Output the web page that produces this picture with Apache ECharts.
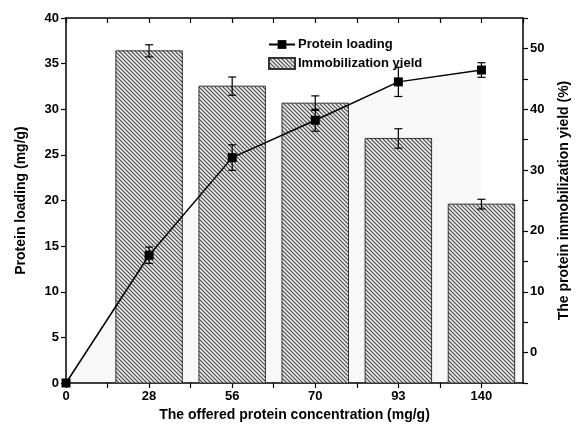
<!DOCTYPE html>
<html>
<head>
<meta charset="utf-8">
<script src="https://cdn.jsdelivr.net/npm/echarts@6/dist/echarts.min.js"></script>
<style>html,body{margin:0;padding:0;background:#fff}#c{width:579px;height:432px}</style>
</head>
<body>
<div id="c"></div>
<script>
const categories = ['0', '28', '56', '70', '93', '140'];
const loading = [0, 14.0, 24.7, 28.8, 33.0, 34.3];
const loadingErr = [0, 0.9, 1.4, 1.2, 1.6, 0.8];
const yieldVals = [null, 49.6, 43.8, 41.0, 35.2, 24.4];
const yieldErr = [null, 1.0, 1.5, 1.2, 1.6, 0.8];

function hatch() {
  const c = document.createElement('canvas');
  c.width = 4; c.height = 4;
  const g = c.getContext('2d');
  g.fillStyle = '#eeeeee';
  g.fillRect(0, 0, 4, 4);
  g.strokeStyle = '#4a4a4a';
  g.lineWidth = 1.2;
  g.beginPath();
  g.moveTo(-1, -1); g.lineTo(5, 5);
  g.moveTo(-1, 3); g.lineTo(1, 5);
  g.moveTo(3, -1); g.lineTo(5, 1);
  g.stroke();
  return c;
}
const pattern = { image: hatch(), repeat: 'repeat' };

const font = 'Liberation Sans, Arial, sans-serif';
const lineData = loading.map((v, i) => [i, v]);
const lineErrData = loading.map((v, i) => [i, v, loadingErr[i]]);
const barData = [];
const barErrData = [];
yieldVals.forEach((v, i) => {
  if (v !== null) { barData.push([i, v]); barErrData.push([i, v, yieldErr[i]]); }
});

function errRender(params, api) {
  const x = api.value(0), y = api.value(1), e = api.value(2);
  if (!e) return null;
  const top = api.coord([x, y + e]);
  const bot = api.coord([x, y - e]);
  const w = 4;
  const st = { stroke: '#000', lineWidth: 1.2 };
  return {
    type: 'group',
    children: [
      { type: 'line', shape: { x1: top[0], y1: top[1], x2: bot[0], y2: bot[1] }, style: st },
      { type: 'line', shape: { x1: top[0] - w, y1: top[1], x2: top[0] + w, y2: top[1] }, style: st },
      { type: 'line', shape: { x1: bot[0] - w, y1: bot[1], x2: bot[0] + w, y2: bot[1] }, style: st }
    ]
  };
}

const YIELD_MIN = -5;
function barRender(params, api) {
  const x = api.value(0), y = api.value(1);
  const topPt = api.coord([x, y]);
  const basePt = api.coord([x, YIELD_MIN]);
  const w = api.size([1, 0])[0] * 0.8;
  return {
    type: 'rect',
    shape: { x: topPt[0] - w / 2, y: topPt[1], width: w, height: basePt[1] - topPt[1] },
    style: { fill: pattern, stroke: '#333', lineWidth: 1 }
  };
}

const axisLabel = { color: '#000', fontWeight: 'bold', fontSize: 13, fontFamily: font };
const nameStyle = { color: '#000', fontWeight: 'bold', fontSize: 14, fontFamily: font };
const axLine = { show: true, onZero: false, lineStyle: { color: '#000', width: 1.5 } };

const chart = echarts.init(document.getElementById('c'), null, { renderer: 'canvas' });
chart.setOption({
  animation: false,
  backgroundColor: '#fff',
  grid: { left: 66, right: 48, top: 18, bottom: 49 },
  legend: {
    data: [{ name: 'Protein loading' }, { name: 'Immobilization yield', icon: 'rect' }],
    orient: 'vertical',
    left: 263, top: 33,
    itemGap: 6,
    itemWidth: 26, itemHeight: 11,
    textStyle: { color: '#000', fontWeight: 'bold', fontSize: 13, fontFamily: font, padding: [0, 0, 0, -2] }
  },
  xAxis: [{
    type: 'value', min: 0, max: 5.5, interval: 0.5, position: 'bottom',
    axisLine: axLine,
    axisTick: { show: true, inside: false, length: 5, lineStyle: { color: '#000', width: 1.2 } },
    axisLabel: Object.assign({}, axisLabel, {
      margin: 7,
      showMaxLabel: false,
      formatter: v => (Math.abs(v - Math.round(v)) < 1e-6 ? categories[Math.round(v)] : '')
    }),
    splitLine: { show: false },
    name: 'The offered protein concentration (mg/g)',
    nameLocation: 'middle', nameGap: 23, nameTextStyle: nameStyle
  }, {
    type: 'value', min: 0, max: 5.5, interval: 0.5, position: 'top',
    axisLine: axLine,
    axisTick: { show: true, inside: true, length: 5, lineStyle: { color: '#000', width: 1.2 } },
    axisLabel: { show: false },
    splitLine: { show: false }
  }],
  yAxis: [{
    type: 'value', min: 0, max: 40, interval: 5, position: 'left',
    axisLine: axLine,
    axisTick: { show: true, length: 5, lineStyle: { color: '#000', width: 1.2 } },
    axisLabel: Object.assign({}, axisLabel, { margin: 7 }),
    splitLine: { show: false },
    name: 'Protein loading (mg/g)',
    nameLocation: 'middle', nameGap: 38, nameRotate: 90, nameTextStyle: nameStyle
  }, {
    type: 'value', min: YIELD_MIN, max: 55, interval: 5, position: 'right',
    axisLine: axLine,
    axisTick: { show: true, length: 5, lineStyle: { color: '#000', width: 1.2 } },
    axisLabel: Object.assign({}, axisLabel, {
      margin: 7,
      formatter: v => (Math.round(v) % 10 === 0 && v <= 50 ? String(v) : '')
    }),
    splitLine: { show: false },
    name: 'The protein immobilization yield (%)',
    nameLocation: 'middle', nameGap: 34, nameRotate: 90, nameTextStyle: nameStyle
  }],
  series: [{
    name: 'area',
    type: 'line', xAxisIndex: 0, yAxisIndex: 0, z: 1,
    data: lineData, symbol: 'none',
    lineStyle: { width: 0 },
    areaStyle: { color: 'rgba(0,0,0,0.04)', origin: 'start' },
    silent: true
  }, {
    name: 'Immobilization yield',
    type: 'custom', xAxisIndex: 0, yAxisIndex: 1, z: 2,
    data: barData, renderItem: barRender,
    itemStyle: { color: pattern, borderColor: '#333', borderWidth: 1 }
  }, {
    name: 'barErr',
    type: 'custom', xAxisIndex: 0, yAxisIndex: 1, z: 3,
    data: barErrData, renderItem: errRender
  }, {
    name: 'lineErr',
    type: 'custom', xAxisIndex: 0, yAxisIndex: 0, z: 4,
    data: lineErrData, renderItem: errRender
  }, {
    name: 'Protein loading',
    type: 'line', xAxisIndex: 0, yAxisIndex: 0, z: 5,
    data: lineData,
    symbol: 'rect', symbolSize: 9,
    itemStyle: { color: '#000' },
    lineStyle: { color: '#000', width: 1.5 }
  }]
});
</script>
</body>
</html>
